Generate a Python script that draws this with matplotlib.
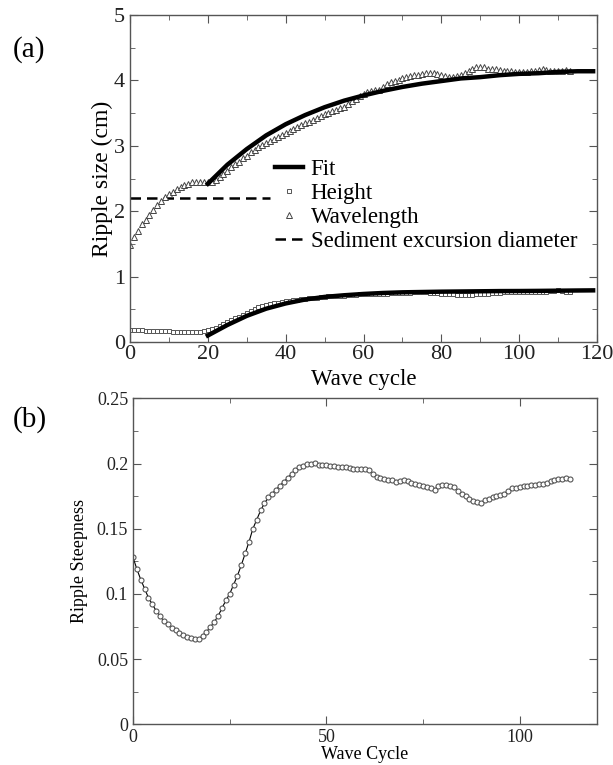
import numpy as np
import matplotlib.pyplot as plt
from matplotlib.ticker import MultipleLocator

plt.rcParams['font.family'] = ['Liberation Serif', 'DejaVu Serif']

# --- panel (a): ripple size ---
cycles = np.arange(0, 114)

wavelength = [
    1.48, 1.60, 1.70, 1.80, 1.87, 1.94, 2.02, 2.09, 2.15, 2.21,
    2.26, 2.30, 2.335, 2.37, 2.40, 2.42, 2.44, 2.45, 2.45, 2.45,
    2.45, 2.45, 2.48, 2.52, 2.57, 2.62, 2.67, 2.72, 2.76, 2.81,
    2.85, 2.90, 2.94, 2.98, 3.02, 3.05, 3.08, 3.11, 3.14, 3.17,
    3.20, 3.23, 3.26, 3.29, 3.32, 3.35, 3.37, 3.40, 3.42, 3.45,
    3.48, 3.50, 3.53, 3.55, 3.58, 3.60, 3.64, 3.68, 3.72, 3.76,
    3.79, 3.82, 3.84, 3.85, 3.86, 3.90, 3.94, 3.97, 3.99, 4.01,
    4.03, 4.05, 4.07, 4.08, 4.09, 4.10, 4.11, 4.12, 4.12, 4.10,
    4.08, 4.06, 4.05, 4.05, 4.06, 4.09, 4.12, 4.15, 4.17, 4.20,
    4.21, 4.20, 4.18, 4.17, 4.17, 4.16, 4.15, 4.15, 4.14, 4.13,
    4.13, 4.13, 4.13, 4.14, 4.15, 4.16, 4.17, 4.16, 4.15, 4.15,
    4.15, 4.15, 4.16, 4.15,
]

height = [
    0.18, 0.18, 0.18, 0.18, 0.175, 0.175, 0.17, 0.17, 0.17, 0.165,
    0.165, 0.16, 0.16, 0.16, 0.155, 0.155, 0.155, 0.155, 0.16, 0.17,
    0.18, 0.20, 0.22, 0.25, 0.28, 0.30, 0.33, 0.36, 0.39, 0.42,
    0.45, 0.48, 0.51, 0.53, 0.55, 0.57, 0.58, 0.59, 0.60, 0.61,
    0.62, 0.63, 0.64, 0.65, 0.66, 0.66, 0.67, 0.68, 0.68, 0.69,
    0.69, 0.70, 0.70, 0.71, 0.71, 0.71, 0.72, 0.72, 0.72, 0.73,
    0.73, 0.73, 0.73, 0.74, 0.74, 0.74, 0.74, 0.75, 0.75, 0.75,
    0.75, 0.75, 0.75, 0.76, 0.76, 0.76, 0.76, 0.75, 0.75, 0.75,
    0.74, 0.74, 0.73, 0.73, 0.72, 0.72, 0.72, 0.72, 0.72, 0.73,
    0.73, 0.74, 0.74, 0.75, 0.75, 0.75, 0.76, 0.76, 0.76, 0.76,
    0.76, 0.76, 0.76, 0.76, 0.77, 0.77, 0.77, 0.77, 0.78, 0.78,
    0.79, 0.78, 0.77, 0.77,
]

fit_cycles = [20, 25, 30, 35, 40, 45, 50, 55, 60, 65, 70, 75, 80, 85, 90,
              95, 100, 105, 110, 115, 119]
fit_wavelength = [2.42, 2.71, 2.95, 3.16, 3.33, 3.47, 3.59, 3.69, 3.77, 3.84,
                  3.90, 3.95, 3.99, 4.03, 4.05, 4.08, 4.10, 4.11, 4.13, 4.14,
                  4.14]
fit_height = [0.10, 0.26, 0.40, 0.51, 0.59, 0.65, 0.69, 0.715, 0.735, 0.75,
              0.76, 0.765, 0.77, 0.773, 0.776, 0.779, 0.78, 0.782, 0.785,
              0.788, 0.79]

excursion_x = [0, 36]
excursion_d = [2.2, 2.2]

# --- panel (b): ripple steepness ---
steep_cycles = np.arange(0, 114)
steepness = [
    0.128, 0.119, 0.111, 0.104, 0.097, 0.092, 0.087, 0.083, 0.079, 0.077,
    0.074, 0.072, 0.070, 0.0685, 0.067, 0.066, 0.0652, 0.0652, 0.068, 0.071,
    0.0745, 0.0785, 0.083, 0.089, 0.095, 0.100, 0.107, 0.114, 0.122, 0.131,
    0.140, 0.150, 0.157, 0.164, 0.1695, 0.174, 0.177, 0.180, 0.183, 0.186,
    0.189, 0.192, 0.195, 0.197, 0.198, 0.1995, 0.200, 0.2005, 0.199, 0.1985,
    0.199, 0.198, 0.198, 0.1975, 0.197, 0.197, 0.1965, 0.196, 0.196, 0.1955,
    0.1955, 0.195, 0.192, 0.190, 0.189, 0.188, 0.1875, 0.187, 0.186, 0.1865,
    0.187, 0.1865, 0.185, 0.184, 0.1835, 0.183, 0.182, 0.181, 0.180, 0.183,
    0.1835, 0.1835, 0.183, 0.182, 0.179, 0.177, 0.175, 0.173, 0.1715, 0.1705,
    0.170, 0.172, 0.173, 0.1745, 0.175, 0.1755, 0.177, 0.179, 0.181, 0.1815,
    0.182, 0.1825, 0.183, 0.1835, 0.1838, 0.184, 0.1845, 0.185, 0.1865, 0.187,
    0.188, 0.1885, 0.189, 0.188,
]

spine_col = '#555555'


def style_axes(ax, size):
    for s in ax.spines.values():
        s.set_color(spine_col)
        s.set_linewidth(1.0)
    ax.tick_params(which='both', direction='in', top=True, right=True,
                   colors=spine_col, labelcolor='#222222', labelsize=size)
    ax.tick_params(which='major', length=6)
    ax.tick_params(which='minor', length=3.5)


fig = plt.figure(figsize=(6.13, 7.65), dpi=100)
ax1 = fig.add_axes([0.2121, 0.5529, 0.7618, 0.4275])
ax2 = fig.add_axes([0.2170, 0.0532, 0.7569, 0.4261])

# panel (a)
l_exc, = ax1.plot(excursion_x, excursion_d, color='black', lw=1.8,
                  dashes=(4.2, 2.4), label='Sediment excursion diameter')
l_h, = ax1.plot(cycles, height, ls='none', marker='s', ms=3.5, mfc='white',
                mec='#555555', mew=0.7, label='Height')
l_w, = ax1.plot(cycles, wavelength, ls='none', marker='^', ms=5, mfc='white',
                mec='#444444', mew=0.7, label='Wavelength')
l_fit, = ax1.plot(fit_cycles, fit_wavelength, color='black', lw=3.2,
                  label='Fit')
ax1.plot(fit_cycles, fit_height, color='black', lw=3.2)

ax1.set_xlim(0, 120)
ax1.set_ylim(0, 5)
ax1.xaxis.set_major_locator(MultipleLocator(20))
ax1.xaxis.set_minor_locator(MultipleLocator(10))
ax1.yaxis.set_major_locator(MultipleLocator(1))
ax1.yaxis.set_minor_locator(MultipleLocator(0.5))
style_axes(ax1, 16)
ax1.tick_params(axis='x', pad=2)
ax1.set_xlabel('Wave cycle', fontsize=16.5, labelpad=4)
ax1.set_ylabel('Ripple size (cm)', fontsize=17, labelpad=1)
ax1.legend(handles=[l_fit, l_h, l_w, l_exc], loc='upper left',
           bbox_to_anchor=(0.31, 0.56), frameon=False, fontsize=16.5,
           handlelength=1.22, handletextpad=0.35, labelspacing=0.13,
           borderpad=0, borderaxespad=0)

# panel (b)
ax2.plot(steep_cycles, steepness, color='black', lw=0.8, marker='o', ms=3.6,
         mfc='white', mec='#555555', mew=0.8)
ax2.set_xlim(0, 120)
ax2.set_ylim(0, 0.25)
ax2.xaxis.set_major_locator(MultipleLocator(50))
ax2.xaxis.set_minor_locator(MultipleLocator(25))
ax2.yaxis.set_major_locator(MultipleLocator(0.05))
ax2.yaxis.set_minor_locator(MultipleLocator(0.025))
ax2.yaxis.set_major_formatter(plt.FuncFormatter(lambda v, p: f'{v:g}'))
style_axes(ax2, 13)
ax2.set_xlabel('Wave Cycle', fontsize=13, labelpad=0)
ax2.set_ylabel('Ripple Steepness', fontsize=13, labelpad=6)

fig.text(0.02, 0.935, '(a)', fontsize=21, va='center')
fig.text(0.02, 0.451, '(b)', fontsize=21, va='center')

fig.savefig('out.png', dpi=100)
